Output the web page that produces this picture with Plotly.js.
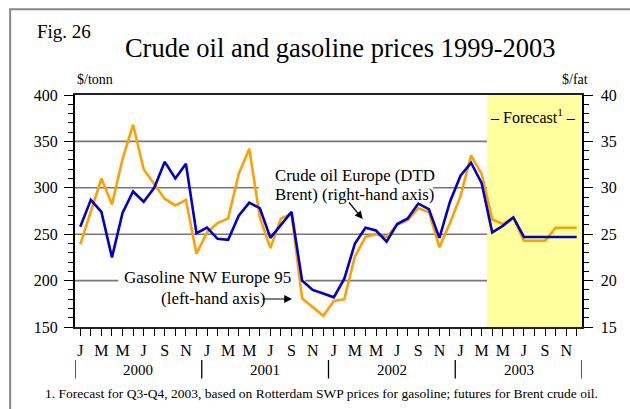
<!DOCTYPE html>
<html>
<head>
<meta charset="utf-8">
<script src="https://cdn.plot.ly/plotly-3.0.1.min.js"></script>
<style>html,body{margin:0;padding:0;background:#fff;}#chart{width:630px;height:409px;}</style>
</head>
<body>
<div id="chart"></div>
<script>
// ---- data ----
var months = [
  "Jan 2000","Feb 2000","Mar 2000","Apr 2000","May 2000","Jun 2000","Jul 2000","Aug 2000","Sep 2000","Oct 2000","Nov 2000","Dec 2000",
  "Jan 2001","Feb 2001","Mar 2001","Apr 2001","May 2001","Jun 2001","Jul 2001","Aug 2001","Sep 2001","Oct 2001","Nov 2001","Dec 2001",
  "Jan 2002","Feb 2002","Mar 2002","Apr 2002","May 2002","Jun 2002","Jul 2002","Aug 2002","Sep 2002","Oct 2002","Nov 2002","Dec 2002",
  "Jan 2003","Feb 2003","Mar 2003","Apr 2003","May 2003","Jun 2003","Jul 2003","Aug 2003","Sep 2003","Oct 2003","Nov 2003","Dec 2003"
];
var monthLetters = ["J","F","M","A","M","J","J","A","S","O","N","D"];
var years = ["2000","2001","2002","2003"];

// Crude oil Europe (DTD Brent), $/barrel (right-hand axis)
var crudeOil = [
  25.8, 28.7, 27.4, 22.5, 27.3, 29.6, 28.5, 30.0, 32.8, 31.0, 32.6, 25.1,
  25.7, 24.5, 24.4, 27.0, 28.4, 27.8, 24.6, 26.0, 27.4, 20.0, 19.0, 18.6,
  18.2, 20.2, 24.0, 25.7, 25.4, 24.2, 26.1, 26.7, 28.3, 27.7, 24.6, 28.5,
  31.3, 32.7, 30.5, 25.2, 25.9, 26.8, 24.7, 24.7, 24.7, 24.7, 24.7, 24.7
];
// Gasoline NW Europe 95, $/tonne (left-hand axis)
var gasoline = [
  239, 275, 310, 282, 331, 368, 320, 304, 288, 281, 287, 229,
  252, 262, 267, 315, 342, 268, 235, 267, 272, 181, 172, 162,
  178, 180, 226, 247, 250, 247, 260, 265, 278, 274, 236, 262,
  291, 335, 315, 266, 261, 268, 243, 243, 243, 257, 257, 257
];
var forecastStartIndex = 38.5;   // forecast shading begins after March 2003
var gridValues = [200, 250, 300, 350];

// ---- derived ----
var xIdx = months.map(function(_, i){ return i; });
var tickText = months.map(function(m, i){ return i % 2 === 0 ? monthLetters[i % 12] : ""; });
var serif = "Liberation Serif, Times New Roman, serif";
var xmin = -0.5, xmax = months.length - 0.5;

var traces = [
  {x: xIdx, y: crudeOil, yaxis: "y2", type: "scatter", mode: "lines",
   line: {color: "#0000CC", width: 2.6}, hoverinfo: "skip"},
  {x: xIdx, y: gasoline, yaxis: "y", type: "scatter", mode: "lines",
   line: {color: "#FFA000", width: 2.6}, hoverinfo: "skip"}
];

var shapes = [];
// forecast shading
shapes.push({type: "rect", xref: "x", yref: "paper", x0: forecastStartIndex, x1: xmax, y0: 0, y1: 1,
  fillcolor: "#FFFF9E", line: {width: 0}, layer: "below"});
// gridlines (interrupted by the in-plot labels, stopping at forecast area)
var gaps = {300: [16.9, 33.4], 200: [3.6, 21.3]};
gridValues.forEach(function(v){
  var segs = gaps[v] ? [[xmin, gaps[v][0]], [gaps[v][1], forecastStartIndex]] : [[xmin, forecastStartIndex]];
  segs.forEach(function(s){
    shapes.push({type: "line", xref: "x", yref: "y", x0: s[0], x1: s[1], y0: v, y1: v,
      line: {color: "#777", width: 1.6}, layer: "below"});
  });
});
// year separators
for (var k = 0; k <= years.length; k++) {
  var xs = k * 12 - 0.5;
  shapes.push({type: "line", xref: "x", yref: "paper", x0: xs, x1: xs, y0: -0.142, y1: -0.222,
    line: {color: "#000", width: 1.3}});
}
// outer frame
shapes.push({type: "rect", xref: "paper", yref: "paper", x0: -0.128, x1: 1.12, y0: -0.5, y1: 1.37,
  line: {color: "#888", width: 2}, fillcolor: "rgba(0,0,0,0)"});

var txt = function(size){ return {family: serif, size: size, color: "#000"}; };
var annotations = [];
years.forEach(function(yr, k){
  annotations.push({text: yr, xref: "x", yref: "paper", x: k * 12 + 5.5, y: -0.187,
    showarrow: false, font: txt(15), xanchor: "center", yanchor: "middle"});
});
annotations.push(
  {text: "Fig. 26", xref: "paper", yref: "paper", x: -0.079, y: 1.272, xanchor: "left", yanchor: "middle",
   showarrow: false, font: txt(19)},
  {text: "$/tonn", xref: "paper", yref: "paper", x: 0.0, y: 1.065, xanchor: "left", yanchor: "middle",
   showarrow: false, font: txt(14)},
  {text: "$/fat", xref: "paper", yref: "paper", x: 1.016, y: 1.065, xanchor: "right", yanchor: "middle",
   showarrow: false, font: txt(14)},
  {text: "\u2013 Forecast<sup>1</sup> \u2013", xref: "paper", yref: "paper", x: 0.903, y: 0.909,
   xanchor: "center", yanchor: "middle", showarrow: false, font: txt(16)},
  {text: "Crude oil Europe (DTD", xref: "paper", yref: "paper", x: 0.3905, y: 0.651,
   xanchor: "left", yanchor: "middle", showarrow: false, font: txt(16.8)},
  {text: "Brent) (right-hand axis)", xref: "paper", yref: "paper", x: 0.3905, y: 0.569,
   xanchor: "left", yanchor: "middle", showarrow: false, font: txt(16.8)},
  {text: "Gasoline NW Europe 95", xref: "paper", yref: "paper", x: 0.2623, y: 0.2155,
   xanchor: "center", yanchor: "middle", showarrow: false, font: txt(17)},
  {text: "(left-hand axis)", xref: "paper", yref: "paper", x: 0.2722, y: 0.125,
   xanchor: "center", yanchor: "middle", showarrow: false, font: txt(17)},
  {text: "", xref: "paper", yref: "paper", x: 0.5675, y: 0.4655, ax: -15, ay: -18,
   showarrow: true, arrowhead: 2, arrowsize: 1.3, arrowwidth: 1.2, arrowcolor: "#000"},
  {text: "", xref: "paper", yref: "paper", x: 0.428, y: 0.1207, ax: -31, ay: 0,
   showarrow: true, arrowhead: 2, arrowsize: 1.3, arrowwidth: 1.2, arrowcolor: "#000"},
  {text: "1. Forecast for Q3-Q4, 2003, based on Rotterdam SWP prices for gasoline; futures for Brent crude oil.",
   xref: "paper", yref: "paper", x: -0.063, y: -0.2845, xanchor: "left", yanchor: "middle",
   showarrow: false, font: txt(13.5)}
);

var layout = {
  width: 630, height: 409,
  margin: {l: 75, r: 48, t: 95, b: 82, pad: 0},
  paper_bgcolor: "#fff", plot_bgcolor: "#fff",
  showlegend: false,
  font: {family: serif, color: "#000"},
  title: {text: "Crude oil and gasoline prices 1999-2003", x: 0.54, xanchor: "center",
    y: 1 - 48/409, yanchor: "middle", yref: "container",
    font: txt(26.5)},
  xaxis: {range: [xmin, xmax], tickmode: "array", tickvals: xIdx, ticktext: tickText,
    ticks: "outside", ticklen: 7, tickwidth: 1, tickcolor: "#000",
    showline: true, mirror: true, linecolor: "#222", linewidth: 2,
    showgrid: false, zeroline: false, ticklabelstandoff: 1,
    tickfont: txt(16)},
  yaxis: {range: [150, 400], tickmode: "linear", tick0: 150, dtick: 50,
    ticks: "outside", ticklen: 9, tickwidth: 1, tickcolor: "#000",
    minor: {ticks: "outside", ticklen: 5, dtick: 10, tick0: 150, tickcolor: "#000", tickwidth: 1, showgrid: false},
    showline: true, linecolor: "#000", linewidth: 2, showgrid: false, zeroline: false,
    ticklabelstandoff: 3, tickfont: txt(16)},
  yaxis2: {range: [15, 40], overlaying: "y", side: "right", tickmode: "linear", tick0: 15, dtick: 5,
    ticks: "outside", ticklen: 9, tickwidth: 1, tickcolor: "#000",
    minor: {ticks: "outside", ticklen: 5, dtick: 1, tick0: 15, tickcolor: "#000", tickwidth: 1, showgrid: false},
    showline: true, linecolor: "#000", linewidth: 1.5, showgrid: false, zeroline: false,
    ticklabelstandoff: 5, tickfont: txt(16)},
  shapes: shapes,
  annotations: annotations
};

Plotly.newPlot("chart", traces, layout, {staticPlot: true, displayModeBar: false});
</script>
</body>
</html>
